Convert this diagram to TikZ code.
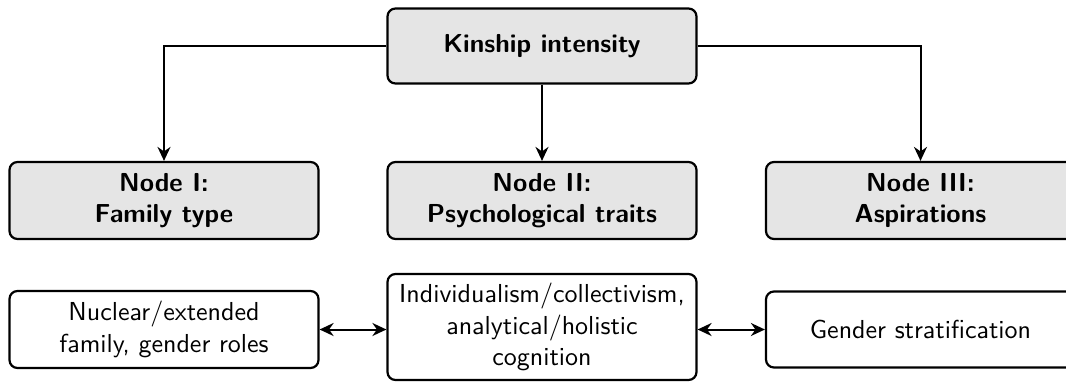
\documentclass[tikz,border=0pt]{standalone}
\usepackage{fontspec}
\usetikzlibrary{arrows.meta}
\newfontfamily\lmsten{lmsans10-regular.otf}[BoldFont=lmsans10-bold.otf]
\begin{document}
\begin{tikzpicture}[x=1pt,y=-1pt,
  box/.style={draw, line width=2.2pt, rounded corners=8pt, minimum width=309pt,
    align=center, inner sep=0pt, font=\lmsten\fontsize{26}{31.2}\selectfont},
  hdr/.style={box, fill=black!10, font=\lmsten\bfseries\fontsize{26}{31.2}\selectfont},
  arr/.style={line width=2pt, -{Stealth[length=14pt,width=13pt]}},
  darr/.style={line width=2pt, {Stealth[length=14pt,width=13pt]}-{Stealth[length=14pt,width=13pt]}}]
\useasboundingbox (0,0) rectangle (1066,381);
\node[hdr, minimum height=75pt] (top) at (542,46) {Kinship intensity};
\node[hdr, minimum height=77pt] (n1) at (164,200.5) {Node I:\\Family type};
\node[hdr, minimum height=77pt] (n2) at (542,200.5) {Node II:\\Psychological traits};
\node[hdr, minimum height=77pt] (n3) at (920.5,200.5) {Node III:\\Aspirations};
\node[box, minimum height=77pt] (b1) at (164,329.5) {Nuclear/extended\\family, gender roles};
\node[box, minimum height=106pt] (b2) at (542,327) {Individualism/collectivism,\\analytical/holistic\\cognition};
\node[box, minimum height=76pt] (b3) at (920.5,329.5) {Gender stratification};
\draw[arr] (top.west) -| (n1.north);
\draw[arr] (top.south) -- (n2.north);
\draw[arr] (top.east) -| (n3.north);
\draw[darr] (b1.east) -- (b1.east -| b2.west);
\draw[darr] (b2.east |- b3.west) -- (b3.west);
\end{tikzpicture}
\end{document}
